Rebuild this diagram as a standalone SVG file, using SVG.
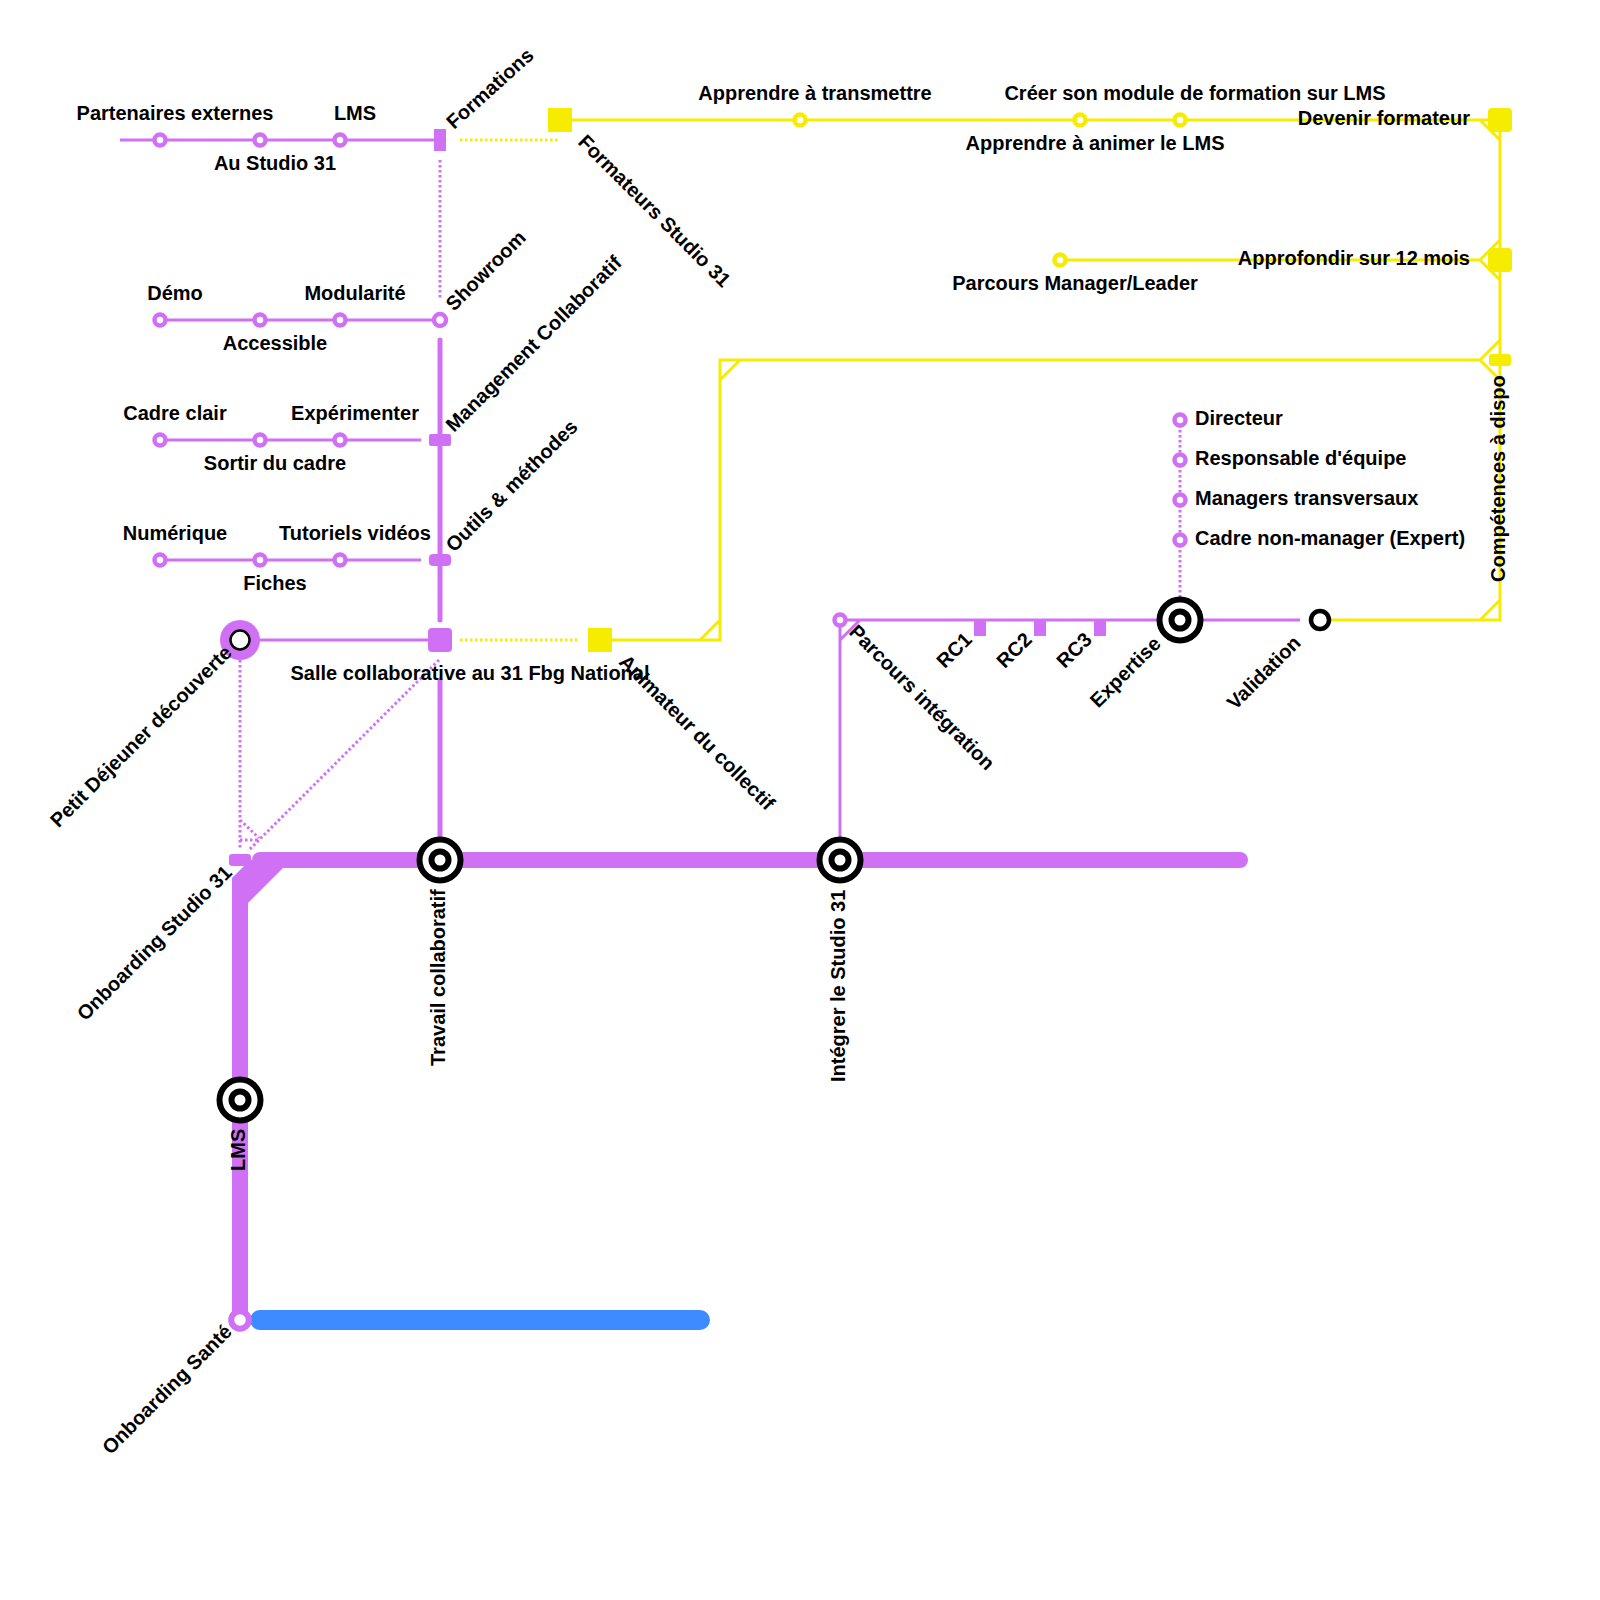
<svg xmlns="http://www.w3.org/2000/svg" width="1600" height="1600" viewBox="0 0 1600 1600">
<style>
text{font-family:"Liberation Sans",Arial,sans-serif;font-weight:700;font-size:20px;fill:#000}
.m{text-anchor:middle}.e{text-anchor:end}
.p{fill:none;stroke:#d070f5;stroke-width:3}
.y{fill:none;stroke:#f5ec00;stroke-width:3}
.pd{fill:none;stroke:#d070f5;stroke-width:3;stroke-dasharray:2.5 2.5}
.yd{fill:none;stroke:#f5ec00;stroke-width:3;stroke-dasharray:2.5 2.5}
.ps{fill:#fff;stroke:#d070f5;stroke-width:4.5}
.ys{fill:#fff;stroke:#f5ec00;stroke-width:4.5}
.pf{fill:#d070f5}.yf{fill:#f5ec00}
.b{fill:#fff;stroke:#000;stroke-width:6}
.b2{fill:#fff;stroke:#000;stroke-width:6}
</style>
<g id="connectors">
<path class="p" d="M120 140H440M160 320H440M160 440H421M160 560H421M240 640H440M840 620H1300M840 620V860M840 640L860 620"/>
<path d="M440 340V620M440 680V860" fill="none" stroke="#d070f5" stroke-width="5" stroke-linecap="round"/>
<path class="pd" d="M440 160V300M240 660V850M439 660L248 851M240 820L259 838M240 840H259M1180 420V600"/>
<path class="yd" d="M460 140H560M460 640H580"/>
<path class="y" d="M560 120H1500M1480 120L1500 140M1500 120V620H1320M1480 620L1500 600M1060 260H1480M1480 260L1500 240M1480 260L1500 280M600 640H720V360H1480M700 640L720 620M720 380L740 360M1480 360L1500 340M1480 360L1500 380"/>
<path class="pf" d="M232 878L250 860H260L283 868L248 903V1320H232Z"/>
<path d="M260 860H1240" fill="none" stroke="#d070f5" stroke-width="16" stroke-linecap="round"/>
<path d="M260 1320H700" fill="none" stroke="#3d8bff" stroke-width="20" stroke-linecap="round"/>
</g>
<g id="n-partenaires"><circle class="ps" cx="160" cy="140" r="5.5"/><text class="m" x="175" y="119.5">Partenaires externes</text></g>
<g id="n-studio"><circle class="ps" cx="260" cy="140" r="5.5"/><text class="m" x="275" y="170">Au Studio 31</text></g>
<g id="n-lms1"><circle class="ps" cx="340" cy="140" r="5.5"/><text class="m" x="355" y="119.5">LMS</text></g>
<g id="n-formations"><rect class="pf" x="434" y="129" width="12" height="22"/><text transform="translate(454 130) rotate(-42)">Formations</text></g>
<g id="n-demo"><circle class="ps" cx="160" cy="320" r="5.5"/><text class="m" x="175" y="300">Démo</text></g>
<g id="n-accessible"><circle class="ps" cx="260" cy="320" r="5.5"/><text class="m" x="275" y="350">Accessible</text></g>
<g id="n-modularite"><circle class="ps" cx="340" cy="320" r="5.5"/><text class="m" x="355" y="300">Modularité</text></g>
<g id="n-showroom"><circle class="ps" cx="440" cy="320" r="6"/><text transform="translate(454 312) rotate(-45)">Showroom</text></g>
<g id="n-cadre"><circle class="ps" cx="160" cy="440" r="5.5"/><text class="m" x="175" y="420">Cadre clair</text></g>
<g id="n-sortir"><circle class="ps" cx="260" cy="440" r="5.5"/><text class="m" x="275" y="470">Sortir du cadre</text></g>
<g id="n-experimenter"><circle class="ps" cx="340" cy="440" r="5.5"/><text class="m" x="355" y="420">Expérimenter</text></g>
<g id="n-management"><rect class="pf" x="429" y="434" width="22" height="12" rx="2"/><text transform="translate(454 433) rotate(-45)">Management Collaboratif</text></g>
<g id="n-numerique"><circle class="ps" cx="160" cy="560" r="5.5"/><text class="m" x="175" y="540">Numérique</text></g>
<g id="n-fiches"><circle class="ps" cx="260" cy="560" r="5.5"/><text class="m" x="275" y="590">Fiches</text></g>
<g id="n-tutoriels"><circle class="ps" cx="340" cy="560" r="5.5"/><text class="m" x="355" y="540">Tutoriels vidéos</text></g>
<g id="n-outils"><rect class="pf" x="429" y="554" width="22" height="12" rx="4"/><text transform="translate(454 553) rotate(-45)">Outils &amp; méthodes</text></g>
<g id="n-petit"><circle class="pf" cx="240" cy="640" r="20"/><circle cx="240" cy="640" r="9.5" fill="#fff" stroke="#000" stroke-width="2.5"/><text class="e" transform="translate(233 654) rotate(-45)">Petit Déjeuner découverte</text></g>
<g id="n-salle"><rect class="pf" x="428" y="628" width="24" height="24" rx="4"/><text class="m" x="470" y="680">Salle collaborative au 31 Fbg National</text></g>
<g id="n-formateurs"><rect class="yf" x="548" y="108" width="24" height="24"/><text transform="translate(577 143) rotate(45)">Formateurs Studio 31</text></g>
<g id="n-transmettre"><circle class="ys" cx="800" cy="120" r="5.5"/><text class="m" x="815" y="100">Apprendre à transmettre</text></g>
<g id="n-animer"><circle class="ys" cx="1080" cy="120" r="5.5"/><text class="m" x="1095" y="150">Apprendre à animer le LMS</text></g>
<g id="n-creer"><circle class="ys" cx="1180" cy="120" r="5.5"/><text class="m" x="1195" y="100">Créer son module de formation sur LMS</text></g>
<g id="n-devenir"><rect class="yf" x="1488" y="108" width="24" height="24" rx="4"/><text class="e" x="1470" y="125">Devenir formateur</text></g>
<g id="n-manager"><circle class="ys" cx="1060" cy="260" r="5.5"/><text class="m" x="1075" y="290">Parcours Manager/Leader</text></g>
<g id="n-approfondir"><rect class="yf" x="1488" y="248" width="24" height="24" rx="4"/><text class="e" x="1470" y="265">Approfondir sur 12 mois</text></g>
<g id="n-competences"><rect class="yf" x="1489" y="354" width="22" height="12" rx="3"/><text transform="translate(1505 582) rotate(-90)">Compétences à dispo</text></g>
<g id="n-animateur"><rect class="yf" x="588" y="628" width="24" height="24"/><text transform="translate(618 663) rotate(45)">Animateur du collectif</text></g>
<g id="n-directeur"><circle class="ps" cx="1180" cy="420" r="5.5"/><text x="1195" y="425">Directeur</text></g>
<g id="n-responsable"><circle class="ps" cx="1180" cy="460" r="5.5"/><text x="1195" y="465">Responsable d'équipe</text></g>
<g id="n-managers"><circle class="ps" cx="1180" cy="500" r="5.5"/><text x="1195" y="504.5">Managers transversaux</text></g>
<g id="n-expert"><circle class="ps" cx="1180" cy="540" r="5.5"/><text x="1195" y="545">Cadre non-manager (Expert)</text></g>
<g id="n-parcours"><circle class="ps" cx="840" cy="620" r="5.5"/><text transform="translate(848 633) rotate(45)">Parcours intégration</text></g>
<g id="n-rc1"><rect class="pf" x="974" y="620" width="12" height="16"/><text class="e" transform="translate(973 641) rotate(-45)">RC1</text></g>
<g id="n-rc2"><rect class="pf" x="1034" y="620" width="12" height="16"/><text class="e" transform="translate(1033 641) rotate(-45)">RC2</text></g>
<g id="n-rc3"><rect class="pf" x="1094" y="620" width="12" height="16"/><text class="e" transform="translate(1093 641) rotate(-45)">RC3</text></g>
<g id="n-expertise"><circle class="b" cx="1180" cy="620" r="20.5"/><circle class="b2" cx="1180" cy="620" r="8.5"/><text class="e" transform="translate(1162 645) rotate(-45)">Expertise</text></g>
<g id="n-validation"><circle cx="1320" cy="620" r="9" fill="#fff" stroke="#000" stroke-width="4.5"/><text class="e" transform="translate(1302 644) rotate(-45)">Validation</text></g>
<g id="n-onboarding"><rect class="pf" x="229" y="854" width="22" height="12" rx="3"/><text class="e" transform="translate(233 874) rotate(-45)">Onboarding Studio 31</text></g>
<g id="n-travail"><circle class="b" cx="440" cy="860" r="20.5"/><circle class="b2" cx="440" cy="860" r="8.5"/><text transform="translate(445 1066) rotate(-90)">Travail collaboratif</text></g>
<g id="n-integrer"><circle class="b" cx="840" cy="860" r="20.5"/><circle class="b2" cx="840" cy="860" r="8.5"/><text transform="translate(845 1082) rotate(-90)">Intégrer le Studio 31</text></g>
<g id="n-lms2"><circle class="b" cx="240" cy="1100" r="20.5"/><circle class="b2" cx="240" cy="1100" r="8.5"/><text transform="translate(245 1171) rotate(-90)">LMS</text></g>
<g id="n-sante"><circle cx="240" cy="1320" r="8.8" fill="#fff" stroke="#d070f5" stroke-width="6"/><text class="e" transform="translate(233 1333) rotate(-45)">Onboarding Santé</text></g>
</svg>
